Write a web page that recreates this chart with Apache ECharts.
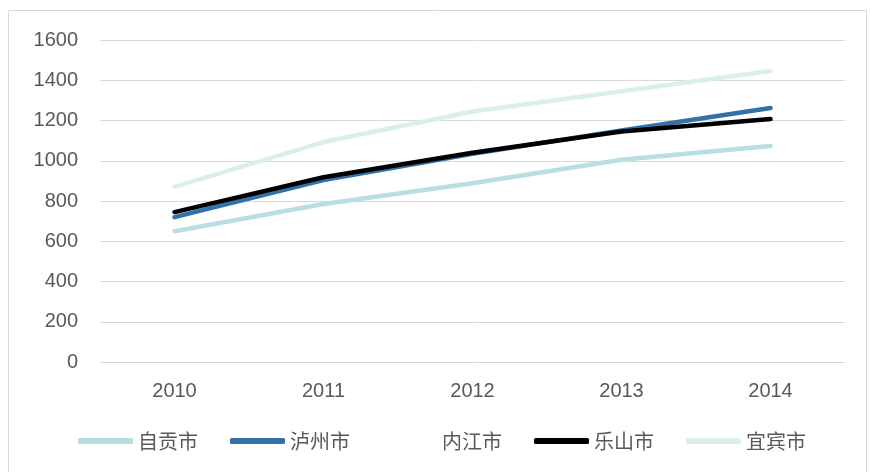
<!DOCTYPE html>
<html lang="en">
<head>
    <meta charset="utf-8">
    <title>Line Chart</title>
    <style>
* {
  margin: 0;
  padding: 0;
}
#chart-container {
  position: relative;
  width: 870px;
  height: 472px;
  overflow: hidden;
  background: #fff;
}
    </style>
</head>
<body>
<div id="chart-container"></div>
<script src="https://fastly.jsdelivr.net/npm/echarts@6/dist/echarts.min.js"></script>
<script>
let years = ['2010', '2011', '2012', '2013', '2014'];
let zigong = [650, 785, 888, 1005, 1073];
let luzhou = [720, 904, 1035, 1150, 1262];
let neijiang = [null, null, null, null, null];
let leshan = [745, 918, 1040, 1145, 1207];
let yibin = [870, 1093, 1245, 1345, 1446];

var dom = document.getElementById('chart-container');
var myChart = echarts.init(dom, null, {
  renderer: 'canvas',
  useDirtyRect: false
});

var font = 'Liberation Sans, Arial, Noto Sans CJK SC, sans-serif';

function line(name, data, color) {
  return {
    name: name,
    type: 'line',
    data: data,
    symbol: 'none',
    smooth: false,
    lineStyle: { color: color, width: 4.5, cap: 'round', join: 'round' },
    itemStyle: { color: color }
  };
}

var option = {
  animation: false,
  textStyle: { fontFamily: font },
  graphic: [{
    type: 'rect',
    shape: { x: 8.5, y: 10.5, width: 858, height: 470 },
    style: { fill: 'none', stroke: '#d9d9d9', lineWidth: 1 },
    silent: true
  }],
  legend: {
    bottom: 16,
    left: 73,
    itemWidth: 55,
    itemHeight: 6,
    itemGap: 32,
    icon: 'roundRect',
    textStyle: { color: '#595959', fontSize: 20, fontFamily: 'Noto Sans CJK SC, sans-serif' },
    data: ['自贡市', '泸州市', '内江市', '乐山市', '宜宾市']
  },
  grid: {
    left: 100,
    right: 25,
    top: 40,
    bottom: 110
  },
  xAxis: {
    type: 'category',
    data: years,
    boundaryGap: true,
    axisLine: { show: false },
    axisTick: { show: false },
    axisLabel: { color: '#595959', fontSize: 20, margin: 19 }
  },
  yAxis: {
    type: 'value',
    min: 0,
    max: 1600,
    interval: 200,
    axisLine: { show: false },
    axisTick: { show: false },
    axisLabel: { color: '#595959', fontSize: 20, margin: 22, formatter: function (v) { return String(v); } },
    splitLine: { lineStyle: { color: '#d9d9d9', width: 1 } }
  },
  series: [
    line('自贡市', zigong, '#b7dee1'),
    line('泸州市', luzhou, '#3272a8'),
    line('内江市', neijiang, 'rgba(255,255,255,0)'),
    line('乐山市', leshan, '#000000'),
    line('宜宾市', yibin, '#dbeeee')
  ]
};

myChart.setOption(option);
window.addEventListener('resize', myChart.resize);
</script>
</body>
</html>
